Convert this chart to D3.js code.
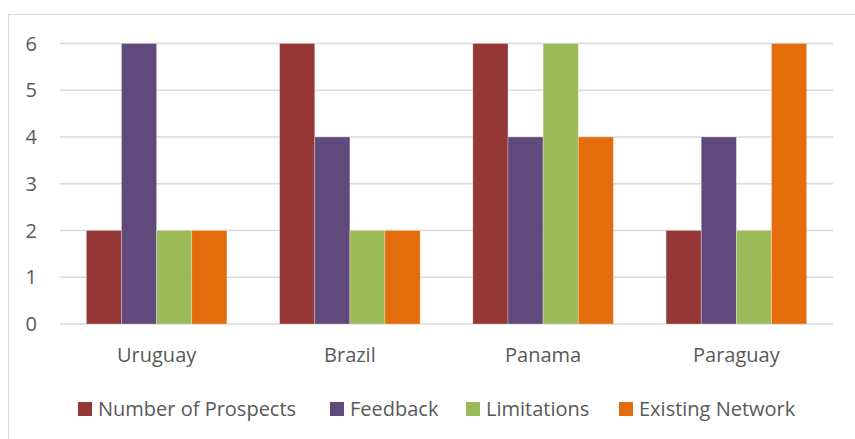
<!DOCTYPE html>
<html>
<head>
<meta charset="utf-8">
<script src="https://cdn.jsdelivr.net/npm/d3@7"></script>
<style>
  body { margin: 0; background: #fff; }
  text { font-family: "Open Sans", "Liberation Sans", sans-serif; fill: #595959; }
</style>
</head>
<body>
<svg id="chart" width="855" height="439"></svg>
<script>
const countries = ["Uruguay", "Brazil", "Panama", "Paraguay"];
const seriesNames = ["Number of Prospects", "Feedback", "Limitations", "Existing Network"];
const prospects = [2, 6, 6, 2];
const feedback = [6, 4, 4, 4];
const limitations = [2, 2, 6, 2];
const existingNetwork = [2, 2, 4, 6];
const yTicks = [0, 1, 2, 3, 4, 5, 6];

const colors = ["#953735", "#604A7B", "#9BBB59", "#E46C0A"];
const values = [prospects, feedback, limitations, existingNetwork];

const svg = d3.select("#chart");

// chart border (right and bottom edges run off the picture)
svg.append("rect")
  .attr("x", 8.5).attr("y", 14.5)
  .attr("width", 900).attr("height", 500)
  .attr("fill", "none").attr("stroke", "#d9d9d9");

const plotLeft = 60, plotRight = 833, plotTop = 43.5, plotBottom = 324;

const x = d3.scaleBand().domain(countries).range([plotLeft, plotRight]);
const inner = d3.scaleBand().domain(seriesNames)
  .range([0, x.bandwidth()]).paddingOuter(0.75).paddingInner(0);
const y = d3.scaleLinear().domain([0, 6]).range([plotBottom, plotTop]);

svg.append("g").selectAll("line")
  .data(yTicks)
  .join("line")
  .attr("x1", plotLeft).attr("x2", plotRight)
  .attr("y1", d => y(d)).attr("y2", d => y(d))
  .attr("stroke", "#d9d9d9").attr("stroke-width", 1.3);

svg.append("g").selectAll("text")
  .data(yTicks)
  .join("text")
  .attr("x", 37).attr("y", d => y(d))
  .attr("dy", "0.36em")
  .attr("text-anchor", "end")
  .attr("font-size", 20)
  .text(d => d);

const groups = svg.append("g").selectAll("g")
  .data(countries)
  .join("g")
  .attr("transform", d => `translate(${x(d)},0)`);

groups.selectAll("rect")
  .data((c, i) => seriesNames.map((s, j) => ({ s, j, v: values[j][i] })))
  .join("rect")
  .attr("x", d => inner(d.s))
  .attr("width", inner.bandwidth())
  .attr("y", d => y(d.v))
  .attr("height", d => y(0) - y(d.v))
  .attr("fill", d => colors[d.j])
  .attr("stroke", "rgba(255,255,255,0.35)")
  .attr("stroke-width", 0.8);

svg.append("g").selectAll("text")
  .data(countries)
  .join("text")
  .attr("x", d => x(d) + x.bandwidth() / 2)
  .attr("y", 362)
  .attr("text-anchor", "middle")
  .attr("font-size", 20)
  .text(d => d);

// legend
const legendX = [78, 330, 466, 619];
const legend = svg.append("g").selectAll("g")
  .data(seriesNames)
  .join("g")
  .attr("transform", (d, i) => `translate(${legendX[i]},402)`);

legend.append("rect")
  .attr("width", 14).attr("height", 14)
  .attr("fill", (d, i) => colors[i]);

legend.append("text")
  .attr("x", 20).attr("y", 14)
  .attr("font-size", 20)
  .text(d => d);
</script>
</body>
</html>
